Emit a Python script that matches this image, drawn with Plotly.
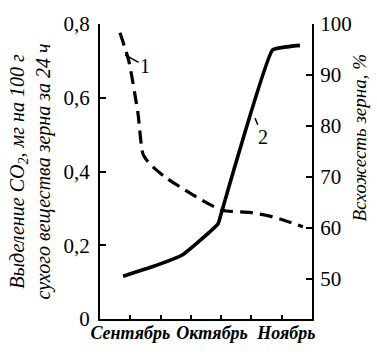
import plotly.graph_objects as go

# CO2 release, mg per 100 g dry grain matter in 24 h (curve 1, left axis)
co2_x = [0.66, 0.95, 1.25, 1.42, 1.65, 2.15, 3.0, 4.03, 4.95, 5.6, 6.0, 6.7]
co2_y = [0.776, 0.70, 0.56, 0.447, 0.42, 0.385, 0.34, 0.295, 0.289, 0.279, 0.27, 0.25]

# Germination, % (curve 2, right axis)
germ_x = [0.76, 1.7, 2.7, 3.2, 3.9, 4.03, 5.7, 6.6]
germ_y = [50.5, 52.3, 54.6, 57.0, 60.8, 63.4, 94.9, 95.8]

month_labels = ["Сентябрь", "Октябрь", "Ноябрь"]
month_pos = [1.0, 3.7, 6.15]

left_ticks = [0, 0.2, 0.4, 0.6, 0.8]
left_text = ["0", "0,2", "0,4", "0,6", "0,8"]
right_ticks = [50, 60, 70, 80, 90, 100]

serif = "Liberation Serif"

fig = go.Figure()
fig.add_trace(go.Scatter(
    x=co2_x, y=co2_y, mode="lines", yaxis="y",
    line=dict(color="black", width=3.2, dash="13px,7px", shape="spline", smoothing=0.6),
    showlegend=False, hoverinfo="skip"))
fig.add_trace(go.Scatter(
    x=germ_x, y=germ_y, mode="lines", yaxis="y2",
    line=dict(color="black", width=3.6, shape="spline", smoothing=0.3),
    showlegend=False, hoverinfo="skip"))
# invisible trace carrying the month axis
fig.add_trace(go.Scatter(x=month_pos, y=[0, 0, 0], xaxis="x2", mode="markers",
                         marker=dict(opacity=0), showlegend=False, hoverinfo="skip"))

fig.update_layout(
    width=377, height=355,
    margin=dict(l=100, r=65, t=21, b=30),
    paper_bgcolor="white", plot_bgcolor="white",
    font=dict(family=serif, color="black"),
    xaxis=dict(range=[0, 7], tickvals=[1, 2, 3, 4, 5, 6], showticklabels=False,
               ticks="inside", ticklen=4, tickwidth=1.5, tickcolor="black",
               showline=True, linecolor="black", linewidth=2,
               showgrid=False, zeroline=False, fixedrange=True),
    xaxis2=dict(range=[0, 7], overlaying="x", anchor="y", side="bottom",
                tickvals=month_pos, ticktext=month_labels, ticks="",
                showline=False, showgrid=False, zeroline=False,
                tickfont=dict(family=serif, size=18, style="italic", weight="bold"),
                ticklabelstandoff=1),
    yaxis=dict(range=[0, 0.8], tickvals=left_ticks, ticktext=left_text,
               ticks="inside", ticklen=6, tickwidth=1.5, tickcolor="black",
               showline=True, linecolor="black", linewidth=2,
               showgrid=False, zeroline=False,
               tickfont=dict(family=serif, size=21), ticklabelstandoff=4),
    yaxis2=dict(range=[42.1, 100], tickvals=right_ticks, overlaying="y", side="right",
                ticks="inside", ticklen=6, tickwidth=1.5, tickcolor="black",
                showline=True, linecolor="black", linewidth=2,
                showgrid=False, zeroline=False,
                tickfont=dict(family=serif, size=21), ticklabelstandoff=2),
)

fig.add_annotation(
    text="Выделение CO<sub>2</sub>, мг на 100 г<br>сухого вещества зерна за 24 ч",
    xref="paper", yref="paper", x=-0.33, y=0.5, textangle=-90,
    showarrow=False, font=dict(family=serif, size=20, style="italic"),
    xanchor="center", yanchor="middle")
fig.add_annotation(
    text="Всхожесть зерна, %", xref="paper", yref="paper", x=1.226, y=0.615,
    textangle=-90, showarrow=False, font=dict(family=serif, size=19, style="italic"),
    xanchor="center", yanchor="middle")

# curve numbers with short leaders
fig.add_annotation(text="1", x=0.83, y=0.716, xref="x", yref="y", ax=20, ay=11,
                   showarrow=True, arrowhead=0, arrowwidth=1.5, arrowcolor="black",
                   font=dict(family=serif, size=20))
fig.add_annotation(text="2", x=5.12, y=81.5, xref="x", yref="y2", ax=8, ay=19,
                   showarrow=True, arrowhead=0, arrowwidth=1.5, arrowcolor="black",
                   font=dict(family=serif, size=20))

fig.write_html("out.html")
